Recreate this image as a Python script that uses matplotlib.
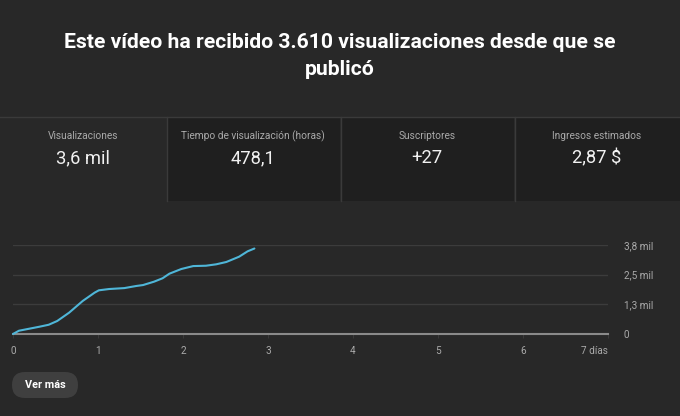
import matplotlib
matplotlib.use("Agg")
import matplotlib.pyplot as plt
from matplotlib.patches import Rectangle, FancyBboxPatch

# ---- data ----
title = "Este vídeo ha recibido 3.610 visualizaciones desde que se\npublicó"
card_labels = ["Visualizaciones", "Tiempo de visualización (horas)", "Suscriptores", "Ingresos estimados"]
card_values = ["3,6 mil", "478,1", "+27", "2,87 $"]
days = [0.0, 0.07, 0.19, 0.31, 0.42, 0.52, 0.66, 0.82, 0.96, 1.01, 1.13, 1.31, 1.45,
        1.53, 1.66, 1.76, 1.84, 1.98, 2.12, 2.27, 2.39, 2.51, 2.66, 2.76, 2.84]
views = [0, 140, 225, 310, 395, 555, 910, 1410, 1765, 1865, 1920, 1960, 2050,
         2090, 2235, 2380, 2575, 2775, 2900, 2915, 2975, 3075, 3300, 3530, 3650]
y_ticks = [0, 1267, 2533, 3800]
y_tick_labels = ["0", "1,3 mil", "2,5 mil", "3,8 mil"]
x_ticks = [0, 1, 2, 3, 4, 5, 6, 7]
x_tick_labels = ["0", "1", "2", "3", "4", "5", "6", "7 días"]
button_text = "Ver más"

W, H = 680, 416
BG = "#282828"
fig = plt.figure(figsize=(W / 100, H / 100), dpi=100, facecolor=BG)

def fx(px):
    return px / W

def fy(py):
    return 1 - py / H

# overlay axes in pixel coordinates
ov = fig.add_axes([0, 0, 1, 1])
ov.set_xlim(0, W)
ov.set_ylim(H, 0)
ov.axis("off")
ov.set_facecolor(BG)

# title
ov.text(W / 2, 56, title, ha="center", va="center", color="#ffffff",
        fontsize=15.2, fontweight="bold", family="Roboto", linespacing=1.5)

# cards
ov.plot([0, W], [116.5, 116.5], color="#3a3a3a", lw=1)
edges = [0, 166, 340, 514, 680]
for i in range(4):
    x0, x1 = edges[i], edges[i + 1]
    col = BG if i == 0 else "#1f1f1f"
    ov.add_patch(Rectangle((x0 + (1 if i else 0), 117), x1 - x0 - (1 if i else 0), 84,
                           facecolor=col, edgecolor="none"))
    cx = (x0 + x1) / 2
    ov.text(cx, 136, card_labels[i], ha="center", va="center", color="#aaaaaa",
            fontsize=7.3, family="Roboto")
    ov.text(cx, 158, card_values[i], ha="center", va="center", color="#f1f1f1",
            fontsize=13.2, family="Roboto")
for xe in edges[1:-1]:
    ov.plot([xe + 0.5, xe + 0.5], [117, 201], color="#3a3a3a", lw=1)

# button
ov.add_patch(FancyBboxPatch((12, 372), 66, 26, boxstyle="round,pad=0,rounding_size=13",
                            facecolor="#3f3f3f", edgecolor="none"))
ov.text(45, 385, button_text, ha="center", va="center", color="#ffffff",
        fontsize=7.8, fontweight="bold", family="Roboto")

# chart
left, right, top, bottom = 13, 608, 245, 334
ax = fig.add_axes([fx(left), fy(bottom), fx(right - left), (bottom - top) / H])
ax.set_facecolor("none")
ax.set_xlim(0, 7)
ax.set_ylim(0, 3800)
for s in ["top", "left", "right"]:
    ax.spines[s].set_visible(False)
ax.spines["bottom"].set_color("#8a8a8a")
ax.spines["bottom"].set_linewidth(1.5)
for yt in y_ticks[1:]:
    ax.axhline(yt, color="#3c3c3c", lw=1, zorder=0)
ax.plot(days, views, color="#4fb6d8", lw=1.5, solid_capstyle="round",
        solid_joinstyle="round", clip_on=False, zorder=3)

ax.set_yticks(y_ticks)
ax.set_yticklabels(y_tick_labels)
ax.yaxis.tick_right()
ax.tick_params(axis="y", length=0, pad=11.5, labelsize=7.2, labelcolor="#aaaaaa")
ax.set_xticks(x_ticks)
ax.set_xticklabels(x_tick_labels)
ax.tick_params(axis="x", length=3, width=0.8, color="#3a3a3a", pad=6, labelsize=7.2,
               labelcolor="#aaaaaa")
for lab in ax.get_yticklabels() + ax.get_xticklabels():
    lab.set_family("Roboto")
ax.get_xticklabels()[-1].set_ha("right")

fig.savefig("out.png", dpi=100, facecolor=BG)
